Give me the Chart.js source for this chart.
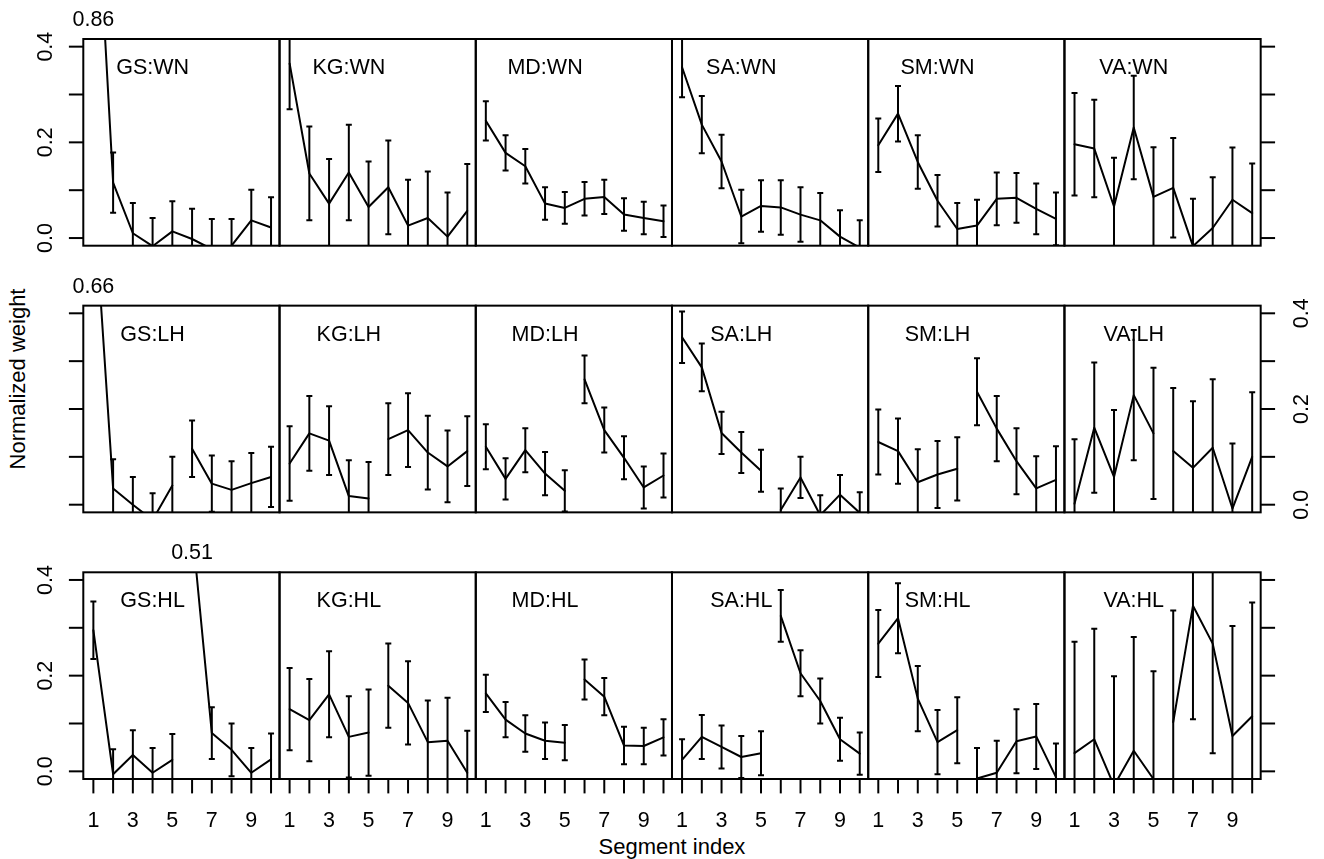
<!DOCTYPE html>
<html><head><meta charset="utf-8">
<script src="https://cdn.jsdelivr.net/npm/chart.js@4.4.1/dist/chart.umd.min.js"></script>
<style>
html,body{margin:0;padding:0;background:#fff;width:1324px;height:859px;overflow:hidden;position:relative;font-family:"Liberation Sans",Arial,sans-serif;}
canvas{position:absolute;}
.lbl{position:absolute;font-size:22px;line-height:22px;color:#000;white-space:nowrap;}
</style></head><body>
<div id="xt" class="lbl">Segment index</div>
<div id="yt" class="lbl">Normalized weight</div>
<script>
// ---------------- data ----------------
const segments = [1,2,3,4,5,6,7,8,9,10];
const subjects = ['GS','KG','MD','SA','SM','VA'];
const conditions = ['WN','LH','HL'];
const yTickValues = [0, 0.1, 0.2, 0.3, 0.4];
const yTickLabels = ['0.0', '', '0.2', '', '0.4'];
const xTickLabels = ['1','','3','','5','','7','','9',''];
const breakAfterFive = [false, true, true];   // per condition row

const GS_WN = [0.86, 0.116, 0.010, -0.017, 0.014, -0.002, -0.023, -0.016, 0.037, 0.022];
const GS_WN_err = [0.10, 0.063, 0.063, 0.059, 0.063, 0.063, 0.063, 0.056, 0.064, 0.063];
const KG_WN = [0.365, 0.135, 0.072, 0.137, 0.065, 0.106, 0.026, 0.042, 0.003, 0.057];
const KG_WN_err = [0.096, 0.098, 0.093, 0.100, 0.095, 0.098, 0.096, 0.097, 0.092, 0.098];
const MD_WN = [0.245, 0.178, 0.150, 0.072, 0.063, 0.082, 0.086, 0.049, 0.042, 0.035];
const MD_WN_err = [0.041, 0.037, 0.036, 0.034, 0.033, 0.035, 0.036, 0.034, 0.034, 0.033];
const SA_WN = [0.357, 0.237, 0.160, 0.045, 0.067, 0.064, 0.049, 0.037, 0.003, -0.020];
const SA_WN_err = [0.063, 0.060, 0.056, 0.056, 0.054, 0.057, 0.057, 0.057, 0.055, 0.057];
const SM_WN = [0.194, 0.260, 0.159, 0.078, 0.019, 0.026, 0.082, 0.084, 0.061, 0.040];
const SM_WN_err = [0.056, 0.058, 0.056, 0.054, 0.054, 0.054, 0.055, 0.052, 0.053, 0.055];
const VA_WN = [0.196, 0.187, 0.066, 0.231, 0.086, 0.105, -0.017, 0.021, 0.080, 0.052];
const VA_WN_err = [0.107, 0.102, 0.102, 0.108, 0.104, 0.104, 0.099, 0.106, 0.109, 0.104];

const GS_LH = [0.66, 0.034, 0.000, -0.032, 0.040, 0.117, 0.044, 0.031, 0.045, 0.058];
const GS_LH_err = [0.06, 0.061, 0.058, 0.056, 0.060, 0.059, 0.059, 0.060, 0.063, 0.063];
const KG_LH = [0.086, 0.149, 0.134, 0.018, 0.013, 0.137, 0.156, 0.109, 0.080, 0.112];
const KG_LH_err = [0.078, 0.078, 0.072, 0.075, 0.076, 0.075, 0.077, 0.077, 0.075, 0.073];
const MD_LH = [0.121, 0.054, 0.114, 0.065, 0.029, 0.262, 0.156, 0.098, 0.036, 0.061];
const MD_LH_err = [0.047, 0.043, 0.046, 0.045, 0.043, 0.050, 0.047, 0.045, 0.044, 0.046];
const SA_LH = [0.350, 0.287, 0.150, 0.109, 0.071, -0.011, 0.057, -0.022, 0.021, -0.017];
const SA_LH_err = [0.054, 0.050, 0.044, 0.043, 0.044, 0.045, 0.043, 0.042, 0.041, 0.043];
const SM_LH = [0.131, 0.112, 0.047, 0.063, 0.075, 0.236, 0.159, 0.091, 0.034, 0.052];
const SM_LH_err = [0.068, 0.068, 0.069, 0.070, 0.066, 0.070, 0.068, 0.069, 0.067, 0.070];
const VA_LH = [0.002, 0.161, 0.058, 0.229, 0.149, 0.112, 0.077, 0.119, -0.008, 0.100];
const VA_LH_err = [0.135, 0.136, 0.140, 0.136, 0.137, 0.132, 0.139, 0.143, 0.136, 0.135];

const GS_HL = [0.295, -0.006, 0.034, -0.003, 0.024, 0.51, 0.080, 0.045, -0.003, 0.025];
const GS_HL_err = [0.060, 0.052, 0.052, 0.052, 0.054, 0.055, 0.054, 0.055, 0.052, 0.054];
const KG_HL = [0.130, 0.107, 0.161, 0.072, 0.081, 0.179, 0.143, 0.061, 0.064, -0.003];
const KG_HL_err = [0.086, 0.086, 0.090, 0.085, 0.090, 0.088, 0.087, 0.087, 0.090, 0.088];
const MD_HL = [0.163, 0.108, 0.079, 0.064, 0.060, 0.192, 0.156, 0.054, 0.053, 0.071];
const MD_HL_err = [0.039, 0.037, 0.038, 0.038, 0.037, 0.042, 0.039, 0.039, 0.038, 0.038];
const SA_HL = [0.024, 0.072, 0.051, 0.030, 0.038, 0.325, 0.205, 0.147, 0.067, 0.037];
const SA_HL_err = [0.043, 0.046, 0.045, 0.044, 0.046, 0.054, 0.048, 0.047, 0.045, 0.044];
const SM_HL = [0.267, 0.320, 0.152, 0.061, 0.086, -0.015, -0.003, 0.063, 0.073, -0.012];
const SM_HL_err = [0.070, 0.073, 0.068, 0.067, 0.069, 0.064, 0.067, 0.067, 0.068, 0.070];
const VA_HL = [0.038, 0.067, -0.030, 0.043, -0.016, 0.103, 0.346, 0.267, 0.074, 0.115];
const VA_HL_err = [0.233, 0.231, 0.229, 0.238, 0.225, 0.233, 0.237, 0.229, 0.230, 0.238];

const seriesTable = [
  [[GS_WN,GS_WN_err],[KG_WN,KG_WN_err],[MD_WN,MD_WN_err],[SA_WN,SA_WN_err],[SM_WN,SM_WN_err],[VA_WN,VA_WN_err]],
  [[GS_LH,GS_LH_err],[KG_LH,KG_LH_err],[MD_LH,MD_LH_err],[SA_LH,SA_LH_err],[SM_LH,SM_LH_err],[VA_LH,VA_LH_err]],
  [[GS_HL,GS_HL_err],[KG_HL,KG_HL_err],[MD_HL,MD_HL_err],[SA_HL,SA_HL_err],[SM_HL,SM_HL_err],[VA_HL,VA_HL_err]]
];

// ---------------- layout ----------------
const PANEL_X0 = 83.3, PANEL_W = 196.23;
const PANEL_Y0 = 39, PANEL_DY = 266.65, PANEL_H = 206.7;
const X_MIN = 0.49, X_MAX = 10.43;
const Y_MIN = -0.016, Y_MAX = 0.416;
const MARGIN = 62;
const FONT = '21.5px "Liberation Sans", Arial, sans-serif';
const LW = 2, TICK = 14.4, CAP = 3;

const rPanel = {
  id: 'rPanel',
  afterDatasetsDraw(chart, args, o) {
    const ctx = chart.ctx, a = chart.chartArea;
    const xs = chart.scales.x, ys = chart.scales.y;
    const pts = chart.data.datasets[0].data;
    ctx.save();
    ctx.strokeStyle = '#000'; ctx.fillStyle = '#000';
    ctx.lineWidth = LW; ctx.lineCap = 'butt';
    // error bars, clipped to the plot region
    ctx.save();
    ctx.beginPath(); ctx.rect(a.left, a.top, a.right - a.left, a.bottom - a.top); ctx.clip();
    pts.forEach((p, i) => {
      const px = xs.getPixelForValue(p.x);
      const lo = ys.getPixelForValue(p.y - o.err[i]);
      const hi = ys.getPixelForValue(p.y + o.err[i]);
      ctx.beginPath();
      ctx.moveTo(px, lo); ctx.lineTo(px, hi);
      ctx.moveTo(px - CAP, lo); ctx.lineTo(px + CAP, lo);
      ctx.moveTo(px - CAP, hi); ctx.lineTo(px + CAP, hi);
      ctx.stroke();
    });
    ctx.restore();
    // box
    ctx.strokeRect(a.left, a.top, a.right - a.left, a.bottom - a.top);
    ctx.font = FONT;
    // panel label
    ctx.textAlign = 'center'; ctx.textBaseline = 'alphabetic';
    ctx.fillText(o.label, xs.getPixelForValue(4), a.top + 35);
    // values beyond the top of the scale
    pts.forEach(p => {
      if (p.y > ys.max) ctx.fillText(p.y.toFixed(2), xs.getPixelForValue(p.x), a.top - 13);
    });
    // left axis
    if (o.left) {
      yTickValues.forEach((v, i) => {
        const py = ys.getPixelForValue(v);
        ctx.beginPath(); ctx.moveTo(a.left - TICK, py); ctx.lineTo(a.left, py); ctx.stroke();
        if (o.left === 'labels' && yTickLabels[i]) {
          ctx.save(); ctx.translate(a.left - 31.6, py); ctx.rotate(-Math.PI / 2);
          ctx.fillText(yTickLabels[i], 0, 0); ctx.restore();
        }
      });
    }
    // right axis
    if (o.right) {
      yTickValues.forEach((v, i) => {
        const py = ys.getPixelForValue(v);
        ctx.beginPath(); ctx.moveTo(a.right, py); ctx.lineTo(a.right + TICK, py); ctx.stroke();
        if (o.right === 'labels' && yTickLabels[i]) {
          ctx.save(); ctx.translate(a.right + 47.6, py); ctx.rotate(-Math.PI / 2);
          ctx.fillText(yTickLabels[i], 0, 0); ctx.restore();
        }
      });
    }
    // bottom axis
    if (o.bottom) {
      segments.forEach((s, i) => {
        const px = xs.getPixelForValue(s);
        ctx.beginPath(); ctx.moveTo(px, a.bottom); ctx.lineTo(px, a.bottom + TICK); ctx.stroke();
        if (xTickLabels[i]) ctx.fillText(xTickLabels[i], px, a.bottom + 47.8);
      });
    }
    ctx.restore();
  }
};

conditions.forEach((cond, r) => {
  subjects.forEach((subj, c) => {
    const [vals, errs] = seriesTable[r][c];
    const pl = PANEL_X0 + c * PANEL_W, pt = PANEL_Y0 + r * PANEL_DY;
    const cl = Math.floor(pl) - MARGIN, ct = Math.floor(pt) - MARGIN;
    const cw = Math.ceil(PANEL_W) + 2 * MARGIN + 2, ch = Math.ceil(PANEL_H) + 2 * MARGIN + 2;
    const padL = pl - cl, padT = pt - ct;
    const padR = cw - padL - PANEL_W, padB = ch - padT - PANEL_H;
    const cv = document.createElement('canvas');
    cv.width = cw; cv.height = ch;
    cv.style.left = cl + 'px'; cv.style.top = ct + 'px';
    cv.style.width = cw + 'px'; cv.style.height = ch + 'px';
    document.body.appendChild(cv);
    const brk = breakAfterFive[r];
    new Chart(cv, {
      type: 'line',
      data: {
        datasets: [{
          data: segments.map((s, i) => ({x: s, y: vals[i]})),
          borderColor: '#000', borderWidth: LW, pointRadius: 0, tension: 0,
          borderJoinStyle: 'round', borderCapStyle: 'round', fill: false, clip: 0,
          segment: { borderColor: sc => (brk && sc.p0DataIndex === 4) ? 'rgba(0,0,0,0)' : '#000' }
        }]
      },
      options: {
        responsive: false, animation: false, devicePixelRatio: 1, events: [],
        layout: { padding: { left: padL, right: padR, top: padT, bottom: padB } },
        scales: {
          x: { type: 'linear', min: X_MIN, max: X_MAX, display: false },
          y: { type: 'linear', min: Y_MIN, max: Y_MAX, display: false }
        },
        plugins: {
          legend: { display: false }, tooltip: { enabled: false },
          rPanel: {
            err: errs, label: subj + ':' + cond,
            left: c === 0 ? (r === 1 ? 'ticks' : 'labels') : null,
            right: c === 5 ? (r === 1 ? 'labels' : 'ticks') : null,
            bottom: r === 2
          }
        }
      },
      plugins: [rPanel]
    });
  });
});

// outer axis titles
const xt = document.getElementById('xt');
xt.style.left = (PANEL_X0 + 3 * PANEL_W) + 'px';
xt.style.top = (853.3 - 17.5) + 'px';
xt.style.transform = 'translateX(-50%)';
const yt = document.getElementById('yt');
yt.style.left = '17.5px'; yt.style.top = '379px';
yt.style.transform = 'translate(-50%,-50%) rotate(-90deg)';
</script>
</body></html>
